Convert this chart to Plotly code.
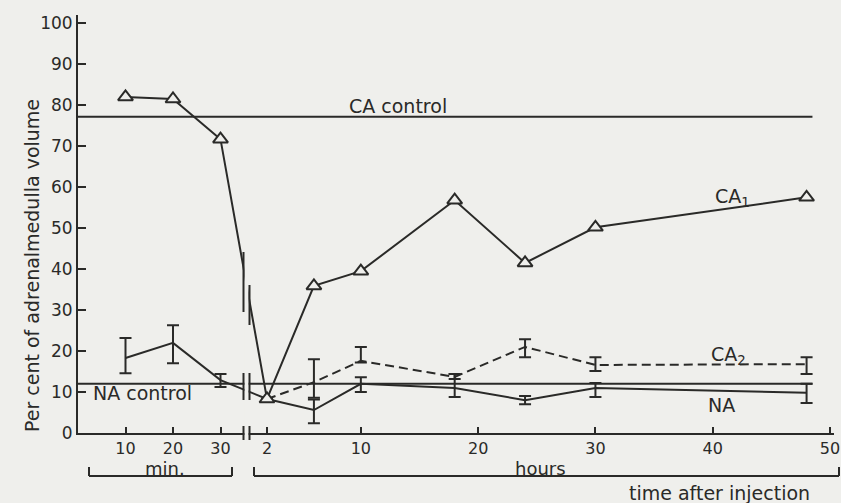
import plotly.graph_objects as go

# ---------------- data ----------------
min_t = [10, 20, 30]                      # minutes after injection
hour_t = [2, 6, 10, 18, 24, 30, 48]       # hours after injection

ca1_min = [82.0, 81.5, 71.7]
ca1_hour = [8.3, 35.9, 39.5, 56.8, 41.5, 50.2, 57.5]

na_min = [18.3, 22.0, 12.9]
na_min_up = [4.9, 4.3, 1.5]
na_min_dn = [3.7, 5.0, 1.7]
na_hour = [8.3, 5.6, 12.0, 11.0, 8.0, 11.0, 9.8]
na_hour_up = [None, 2.6, 1.6, 3.4, 1.0, 1.2, 2.2]
na_hour_dn = [None, 3.2, 2.0, 2.2, 1.0, 2.2, 2.5]

ca2_hour = [8.3, 12.4, 17.6, 13.7, 21.0, 16.6, 16.8]
ca2_hour_up = [None, 5.6, 3.4, 0.7, 1.9, 1.9, 1.7]
ca2_hour_dn = [None, 3.8, 0.4, 0.5, 2.5, 1.5, 2.4]

ca_control = 77.2
na_control = 12.0
control_end_hour = 48.5

min_ticks = [10, 20, 30]
hour_ticks = [2, 10, 20, 30, 40, 50]

y_ticks = list(range(0, 101, 10))

# ---------------- broken time axis ----------------
MIN_SCALE = 4.75          # axis units per minute
HOUR_ORIGIN = 189.0       # axis position of 2 h
HOUR_SCALE = 11.73        # axis units per hour
X_MAX = 756.0


def pos_min(m):
    return m * MIN_SCALE


def pos_hour(h):
    return HOUR_ORIGIN + (h - 2) * HOUR_SCALE


# plot-area geometry (pixels) used for decorations in paper coordinates
L, T, W, H = 78, 15, 756, 418
FIG_W, FIG_H = 841, 503


def px(p):
    return (p - L) / W


def py(p):
    return (T + H - p) / H


INK = "#2a2a28"
BG = "#efefec"
FONT = "DejaVu Sans"
LW = 2.0

fig = go.Figure()

# control lines
fig.add_trace(go.Scatter(x=[pos_min(0), pos_hour(control_end_hour)], y=[ca_control, ca_control],
                         mode="lines", line=dict(color=INK, width=LW), hoverinfo="skip"))
fig.add_trace(go.Scatter(x=[pos_min(0), pos_hour(control_end_hour)], y=[na_control, na_control],
                         mode="lines", line=dict(color=INK, width=LW), hoverinfo="skip"))

# NA
fig.add_trace(go.Scatter(
    x=[pos_min(m) for m in min_t] + [pos_hour(h) for h in hour_t],
    y=na_min + na_hour,
    mode="lines", line=dict(color=INK, width=LW),
    error_y=dict(type="data", symmetric=False,
                 array=na_min_up + na_hour_up, arrayminus=na_min_dn + na_hour_dn,
                 color=INK, thickness=LW, width=6),
))

# CA2
fig.add_trace(go.Scatter(
    x=[pos_hour(h) for h in hour_t], y=ca2_hour,
    mode="lines", line=dict(color=INK, width=LW, dash="9px,5px"),
    error_y=dict(type="data", symmetric=False, array=ca2_hour_up, arrayminus=ca2_hour_dn,
                 color=INK, thickness=LW, width=6),
))

# CA1
fig.add_trace(go.Scatter(
    x=[pos_min(m) for m in min_t] + [pos_hour(h) for h in hour_t],
    y=ca1_min + ca1_hour,
    mode="lines+markers", line=dict(color=INK, width=LW),
    marker=dict(symbol="triangle-up", size=13, color=BG, line=dict(color=INK, width=LW)),
))

shapes = []
# axis break: gap and double marks
bx1, bx2 = 243.5, 249.5
shapes.append(dict(type="rect", xref="paper", yref="paper",
                   x0=px(bx1 + 0.9), x1=px(bx2 - 0.9), y0=py(445), y1=py(245),
                   fillcolor=BG, line=dict(width=0), layer="above"))
for bx in (bx1, bx2):
    shapes.append(dict(type="line", xref="paper", yref="paper", x0=px(bx), x1=px(bx),
                       y0=py(440), y1=py(426), line=dict(color=INK, width=LW), layer="above"))
    shapes.append(dict(type="line", xref="paper", yref="paper", x0=px(bx), x1=px(bx),
                       y0=py(400), y1=py(373), line=dict(color=INK, width=LW), layer="above"))
shapes.append(dict(type="line", xref="paper", yref="paper", x0=px(bx1), x1=px(bx1),
                   y0=py(312), y1=py(252), line=dict(color=INK, width=LW), layer="above"))
shapes.append(dict(type="line", xref="paper", yref="paper", x0=px(bx2), x1=px(bx2),
                   y0=py(325), y1=py(285), line=dict(color=INK, width=LW), layer="above"))

# brackets "min." and "hours"
def bracket(x0, x1, ybase, ytop):
    return [
        dict(type="line", xref="paper", yref="paper", x0=px(x0), x1=px(x1), y0=py(ybase), y1=py(ybase),
             line=dict(color=INK, width=LW)),
        dict(type="line", xref="paper", yref="paper", x0=px(x0), x1=px(x0), y0=py(ybase), y1=py(ytop),
             line=dict(color=INK, width=LW)),
        dict(type="line", xref="paper", yref="paper", x0=px(x1), x1=px(x1), y0=py(ybase), y1=py(ytop),
             line=dict(color=INK, width=LW)),
    ]

shapes += bracket(89, 232, 476, 467)
shapes += bracket(254, 839, 476, 467)

annotations = []


def label(text, x, y, xanchor="center", size=19, angle=0):
    annotations.append(dict(text=text, xref="paper", yref="paper", x=px(x), y=py(y),
                            xanchor=xanchor, yanchor="middle", showarrow=False, textangle=angle,
                            font=dict(family=FONT, size=size, color=INK)))


label("CA control", 398, 106)
label("NA control", 91, 393, xanchor="left")
label("CA<sub>1</sub>", 713, 197, xanchor="left")
label("CA<sub>2</sub>", 709, 355, xanchor="left")
label("NA", 706, 405, xanchor="left")
label("min.", 165, 468, size=18)
label("hours", 540, 468, size=18)
label("time after injection", 627, 493, xanchor="left")
label("Per cent of adrenalmedulla volume", 32, 266, angle=-90, size=19)

fig.update_layout(
    width=FIG_W, height=FIG_H,
    margin=dict(l=L, r=FIG_W - L - W, t=T, b=FIG_H - T - H, autoexpand=False),
    paper_bgcolor=BG, plot_bgcolor=BG,
    showlegend=False,
    shapes=shapes, annotations=annotations,
    font=dict(family=FONT, color=INK, size=16),
)
fig.update_xaxes(
    range=[0, X_MAX], showgrid=False, zeroline=False, showline=True, linecolor=INK, linewidth=LW,
    ticks="inside", ticklen=6, tickwidth=LW, tickcolor=INK, automargin=False,
    tickvals=[pos_min(m) for m in min_t] + [pos_hour(h) for h in hour_ticks],
    ticktext=[str(m) for m in min_ticks] + [str(h) for h in hour_ticks],
    tickfont=dict(family=FONT, size=16, color=INK),
)
fig.update_yaxes(
    range=[0, 102], showgrid=False, zeroline=False, showline=True, linecolor=INK, linewidth=LW,
    ticks="inside", ticklen=8, tickwidth=LW, tickcolor=INK, automargin=False,
    tickvals=y_ticks, ticktext=[str(v) for v in y_ticks],
    tickfont=dict(family=FONT, size=17, color=INK),
)

fig.write_html("out.html", config={"displayModeBar": False, "staticPlot": True},
               post_script="document.body.style.margin='0';document.body.style.background='%s';" % BG)
